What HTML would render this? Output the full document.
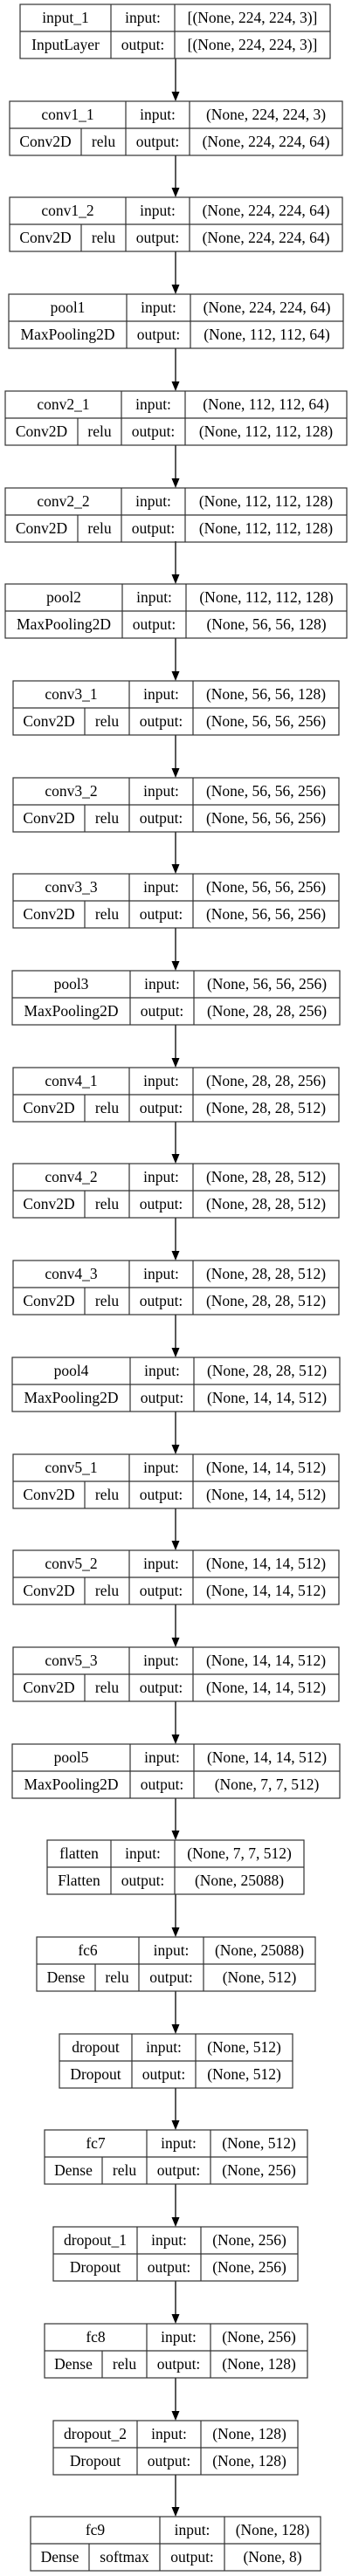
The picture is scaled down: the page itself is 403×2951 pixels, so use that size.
<!DOCTYPE html>
<html><head><meta charset="utf-8"><style>
html,body{margin:0;padding:0;background:#fff;}
svg{display:block;}
text{font-family:"Liberation Serif",serif;font-size:17.5px;fill:#000;text-anchor:middle;}
.b{fill:none;stroke:#333;stroke-width:1.2;}
.l{stroke:#333;stroke-width:1.2;}
.a{stroke:#000;stroke-width:1.3;}
</style></head><body>
<svg width="403" height="2951" viewBox="0 0 403 2951" xmlns="http://www.w3.org/2000/svg">
<rect width="403" height="2951" fill="#fff"/>

<g>
<line class="a" x1="201" y1="67" x2="201" y2="106"/><polygon points="196.5,105 205.5,105 201,116"/>
<line class="a" x1="201" y1="178" x2="201" y2="216"/><polygon points="196.5,215 205.5,215 201,226"/>
<line class="a" x1="201" y1="288" x2="201" y2="327"/><polygon points="196.5,326 205.5,326 201,337"/>
<line class="a" x1="201" y1="399" x2="201" y2="438"/><polygon points="196.5,437 205.5,437 201,448"/>
<line class="a" x1="201" y1="510" x2="201" y2="549"/><polygon points="196.5,548 205.5,548 201,559"/>
<line class="a" x1="201" y1="620" x2="201" y2="659"/><polygon points="196.5,658 205.5,658 201,669"/>
<line class="a" x1="201" y1="731" x2="201" y2="770"/><polygon points="196.5,769 205.5,769 201,780"/>
<line class="a" x1="201" y1="842" x2="201" y2="881"/><polygon points="196.5,880 205.5,880 201,891"/>
<line class="a" x1="201" y1="953" x2="201" y2="991"/><polygon points="196.5,990 205.5,990 201,1001"/>
<line class="a" x1="201" y1="1063" x2="201" y2="1102"/><polygon points="196.5,1101 205.5,1101 201,1112"/>
<line class="a" x1="201" y1="1174" x2="201" y2="1213"/><polygon points="196.5,1212 205.5,1212 201,1223"/>
<line class="a" x1="201" y1="1285" x2="201" y2="1323"/><polygon points="196.5,1322 205.5,1322 201,1333"/>
<line class="a" x1="201" y1="1395" x2="201" y2="1434"/><polygon points="196.5,1433 205.5,1433 201,1444"/>
<line class="a" x1="201" y1="1506" x2="201" y2="1545"/><polygon points="196.5,1544 205.5,1544 201,1555"/>
<line class="a" x1="201" y1="1617" x2="201" y2="1656"/><polygon points="196.5,1655 205.5,1655 201,1666"/>
<line class="a" x1="201" y1="1728" x2="201" y2="1766"/><polygon points="196.5,1765 205.5,1765 201,1776"/>
<line class="a" x1="201" y1="1838" x2="201" y2="1877"/><polygon points="196.5,1876 205.5,1876 201,1887"/>
<line class="a" x1="201" y1="1949" x2="201" y2="1988"/><polygon points="196.5,1987 205.5,1987 201,1998"/>
<line class="a" x1="201" y1="2060" x2="201" y2="2098"/><polygon points="196.5,2097 205.5,2097 201,2108"/>
<line class="a" x1="201" y1="2170" x2="201" y2="2209"/><polygon points="196.5,2208 205.5,2208 201,2219"/>
<line class="a" x1="201" y1="2281" x2="201" y2="2320"/><polygon points="196.5,2319 205.5,2319 201,2330"/>
<line class="a" x1="201" y1="2392" x2="201" y2="2430"/><polygon points="196.5,2429 205.5,2429 201,2440"/>
<line class="a" x1="201" y1="2502" x2="201" y2="2541"/><polygon points="196.5,2540 205.5,2540 201,2551"/>
<line class="a" x1="201" y1="2613" x2="201" y2="2652"/><polygon points="196.5,2651 205.5,2651 201,2662"/>
<line class="a" x1="201" y1="2724" x2="201" y2="2763"/><polygon points="196.5,2762 205.5,2762 201,2773"/>
<line class="a" x1="201" y1="2835" x2="201" y2="2873"/><polygon points="196.5,2872 205.5,2872 201,2883"/>
</g>

<g transform="translate(0,5)">
<rect class="b" x="23" y="0" width="355" height="62"/><line class="l" x1="23" y1="31" x2="378" y2="31"/>
<line class="l" x1="127" y1="0" x2="127" y2="62"/><line class="l" x1="200" y1="0" x2="200" y2="62"/>
<text x="75" y="21">input_1</text><text x="163.5" y="21">input:</text><text x="289" y="21">[(None, 224, 224, 3)]</text>
<text x="75" y="52">InputLayer</text><text x="163.5" y="52">output:</text><text x="289" y="52">[(None, 224, 224, 3)]</text>
</g>

<g transform="translate(0,116)">
<rect class="b" x="11" y="0" width="381" height="62"/><line class="l" x1="11" y1="31" x2="392" y2="31"/>
<line class="l" x1="144" y1="0" x2="144" y2="62"/><line class="l" x1="217" y1="0" x2="217" y2="62"/><line class="l" x1="93" y1="31" x2="93" y2="62"/>
<text x="77.5" y="21">conv1_1</text><text x="180.5" y="21">input:</text><text x="304.5" y="21">(None, 224, 224, 3)</text>
<text x="52" y="52">Conv2D</text><text x="118.5" y="52">relu</text><text x="180.5" y="52">output:</text><text x="304.5" y="52">(None, 224, 224, 64)</text>
</g>

<g transform="translate(0,226)">
<rect class="b" x="11" y="0" width="381" height="62"/><line class="l" x1="11" y1="31" x2="392" y2="31"/>
<line class="l" x1="144" y1="0" x2="144" y2="62"/><line class="l" x1="217" y1="0" x2="217" y2="62"/><line class="l" x1="93" y1="31" x2="93" y2="62"/>
<text x="77.5" y="21">conv1_2</text><text x="180.5" y="21">input:</text><text x="304.5" y="21">(None, 224, 224, 64)</text>
<text x="52" y="52">Conv2D</text><text x="118.5" y="52">relu</text><text x="180.5" y="52">output:</text><text x="304.5" y="52">(None, 224, 224, 64)</text>
</g>

<g transform="translate(0,337)">
<rect class="b" x="10" y="0" width="383" height="62"/><line class="l" x1="10" y1="31" x2="393" y2="31"/>
<line class="l" x1="145" y1="0" x2="145" y2="62"/><line class="l" x1="218" y1="0" x2="218" y2="62"/>
<text x="77.5" y="21">pool1</text><text x="181.5" y="21">input:</text><text x="305.5" y="21">(None, 224, 224, 64)</text>
<text x="77.5" y="52">MaxPooling2D</text><text x="181.5" y="52">output:</text><text x="305.5" y="52">(None, 112, 112, 64)</text>
</g>

<g transform="translate(0,448)">
<rect class="b" x="6" y="0" width="391" height="62"/><line class="l" x1="6" y1="31" x2="397" y2="31"/>
<line class="l" x1="139" y1="0" x2="139" y2="62"/><line class="l" x1="212" y1="0" x2="212" y2="62"/><line class="l" x1="89" y1="31" x2="89" y2="62"/>
<text x="72.5" y="21">conv2_1</text><text x="175.5" y="21">input:</text><text x="304.5" y="21">(None, 112, 112, 64)</text>
<text x="47.5" y="52">Conv2D</text><text x="114" y="52">relu</text><text x="175.5" y="52">output:</text><text x="304.5" y="52">(None, 112, 112, 128)</text>
</g>

<g transform="translate(0,559)">
<rect class="b" x="6" y="0" width="391" height="62"/><line class="l" x1="6" y1="31" x2="397" y2="31"/>
<line class="l" x1="139" y1="0" x2="139" y2="62"/><line class="l" x1="212" y1="0" x2="212" y2="62"/><line class="l" x1="89" y1="31" x2="89" y2="62"/>
<text x="72.5" y="21">conv2_2</text><text x="175.5" y="21">input:</text><text x="304.5" y="21">(None, 112, 112, 128)</text>
<text x="47.5" y="52">Conv2D</text><text x="114" y="52">relu</text><text x="175.5" y="52">output:</text><text x="304.5" y="52">(None, 112, 112, 128)</text>
</g>

<g transform="translate(0,669)">
<rect class="b" x="6" y="0" width="391" height="62"/><line class="l" x1="6" y1="31" x2="397" y2="31"/>
<line class="l" x1="140" y1="0" x2="140" y2="62"/><line class="l" x1="213" y1="0" x2="213" y2="62"/>
<text x="73" y="21">pool2</text><text x="176.5" y="21">input:</text><text x="305" y="21">(None, 112, 112, 128)</text>
<text x="73" y="52">MaxPooling2D</text><text x="176.5" y="52">output:</text><text x="305" y="52">(None, 56, 56, 128)</text>
</g>

<g transform="translate(0,780)">
<rect class="b" x="15" y="0" width="373" height="62"/><line class="l" x1="15" y1="31" x2="388" y2="31"/>
<line class="l" x1="148" y1="0" x2="148" y2="62"/><line class="l" x1="221" y1="0" x2="221" y2="62"/><line class="l" x1="97" y1="31" x2="97" y2="62"/>
<text x="81.5" y="21">conv3_1</text><text x="184.5" y="21">input:</text><text x="304.5" y="21">(None, 56, 56, 128)</text>
<text x="56" y="52">Conv2D</text><text x="122.5" y="52">relu</text><text x="184.5" y="52">output:</text><text x="304.5" y="52">(None, 56, 56, 256)</text>
</g>

<g transform="translate(0,891)">
<rect class="b" x="15" y="0" width="373" height="62"/><line class="l" x1="15" y1="31" x2="388" y2="31"/>
<line class="l" x1="148" y1="0" x2="148" y2="62"/><line class="l" x1="221" y1="0" x2="221" y2="62"/><line class="l" x1="97" y1="31" x2="97" y2="62"/>
<text x="81.5" y="21">conv3_2</text><text x="184.5" y="21">input:</text><text x="304.5" y="21">(None, 56, 56, 256)</text>
<text x="56" y="52">Conv2D</text><text x="122.5" y="52">relu</text><text x="184.5" y="52">output:</text><text x="304.5" y="52">(None, 56, 56, 256)</text>
</g>

<g transform="translate(0,1001)">
<rect class="b" x="15" y="0" width="373" height="62"/><line class="l" x1="15" y1="31" x2="388" y2="31"/>
<line class="l" x1="148" y1="0" x2="148" y2="62"/><line class="l" x1="221" y1="0" x2="221" y2="62"/><line class="l" x1="97" y1="31" x2="97" y2="62"/>
<text x="81.5" y="21">conv3_3</text><text x="184.5" y="21">input:</text><text x="304.5" y="21">(None, 56, 56, 256)</text>
<text x="56" y="52">Conv2D</text><text x="122.5" y="52">relu</text><text x="184.5" y="52">output:</text><text x="304.5" y="52">(None, 56, 56, 256)</text>
</g>

<g transform="translate(0,1112)">
<rect class="b" x="14" y="0" width="375" height="62"/><line class="l" x1="14" y1="31" x2="389" y2="31"/>
<line class="l" x1="149" y1="0" x2="149" y2="62"/><line class="l" x1="222" y1="0" x2="222" y2="62"/>
<text x="81.5" y="21">pool3</text><text x="185.5" y="21">input:</text><text x="305.5" y="21">(None, 56, 56, 256)</text>
<text x="81.5" y="52">MaxPooling2D</text><text x="185.5" y="52">output:</text><text x="305.5" y="52">(None, 28, 28, 256)</text>
</g>

<g transform="translate(0,1223)">
<rect class="b" x="15" y="0" width="373" height="62"/><line class="l" x1="15" y1="31" x2="388" y2="31"/>
<line class="l" x1="148" y1="0" x2="148" y2="62"/><line class="l" x1="221" y1="0" x2="221" y2="62"/><line class="l" x1="97" y1="31" x2="97" y2="62"/>
<text x="81.5" y="21">conv4_1</text><text x="184.5" y="21">input:</text><text x="304.5" y="21">(None, 28, 28, 256)</text>
<text x="56" y="52">Conv2D</text><text x="122.5" y="52">relu</text><text x="184.5" y="52">output:</text><text x="304.5" y="52">(None, 28, 28, 512)</text>
</g>

<g transform="translate(0,1333)">
<rect class="b" x="15" y="0" width="373" height="62"/><line class="l" x1="15" y1="31" x2="388" y2="31"/>
<line class="l" x1="148" y1="0" x2="148" y2="62"/><line class="l" x1="221" y1="0" x2="221" y2="62"/><line class="l" x1="97" y1="31" x2="97" y2="62"/>
<text x="81.5" y="21">conv4_2</text><text x="184.5" y="21">input:</text><text x="304.5" y="21">(None, 28, 28, 512)</text>
<text x="56" y="52">Conv2D</text><text x="122.5" y="52">relu</text><text x="184.5" y="52">output:</text><text x="304.5" y="52">(None, 28, 28, 512)</text>
</g>

<g transform="translate(0,1444)">
<rect class="b" x="15" y="0" width="373" height="62"/><line class="l" x1="15" y1="31" x2="388" y2="31"/>
<line class="l" x1="148" y1="0" x2="148" y2="62"/><line class="l" x1="221" y1="0" x2="221" y2="62"/><line class="l" x1="97" y1="31" x2="97" y2="62"/>
<text x="81.5" y="21">conv4_3</text><text x="184.5" y="21">input:</text><text x="304.5" y="21">(None, 28, 28, 512)</text>
<text x="56" y="52">Conv2D</text><text x="122.5" y="52">relu</text><text x="184.5" y="52">output:</text><text x="304.5" y="52">(None, 28, 28, 512)</text>
</g>

<g transform="translate(0,1555)">
<rect class="b" x="14" y="0" width="375" height="62"/><line class="l" x1="14" y1="31" x2="389" y2="31"/>
<line class="l" x1="149" y1="0" x2="149" y2="62"/><line class="l" x1="222" y1="0" x2="222" y2="62"/>
<text x="81.5" y="21">pool4</text><text x="185.5" y="21">input:</text><text x="305.5" y="21">(None, 28, 28, 512)</text>
<text x="81.5" y="52">MaxPooling2D</text><text x="185.5" y="52">output:</text><text x="305.5" y="52">(None, 14, 14, 512)</text>
</g>

<g transform="translate(0,1666)">
<rect class="b" x="15" y="0" width="373" height="62"/><line class="l" x1="15" y1="31" x2="388" y2="31"/>
<line class="l" x1="148" y1="0" x2="148" y2="62"/><line class="l" x1="221" y1="0" x2="221" y2="62"/><line class="l" x1="97" y1="31" x2="97" y2="62"/>
<text x="81.5" y="21">conv5_1</text><text x="184.5" y="21">input:</text><text x="304.5" y="21">(None, 14, 14, 512)</text>
<text x="56" y="52">Conv2D</text><text x="122.5" y="52">relu</text><text x="184.5" y="52">output:</text><text x="304.5" y="52">(None, 14, 14, 512)</text>
</g>

<g transform="translate(0,1776)">
<rect class="b" x="15" y="0" width="373" height="62"/><line class="l" x1="15" y1="31" x2="388" y2="31"/>
<line class="l" x1="148" y1="0" x2="148" y2="62"/><line class="l" x1="221" y1="0" x2="221" y2="62"/><line class="l" x1="97" y1="31" x2="97" y2="62"/>
<text x="81.5" y="21">conv5_2</text><text x="184.5" y="21">input:</text><text x="304.5" y="21">(None, 14, 14, 512)</text>
<text x="56" y="52">Conv2D</text><text x="122.5" y="52">relu</text><text x="184.5" y="52">output:</text><text x="304.5" y="52">(None, 14, 14, 512)</text>
</g>

<g transform="translate(0,1887)">
<rect class="b" x="15" y="0" width="373" height="62"/><line class="l" x1="15" y1="31" x2="388" y2="31"/>
<line class="l" x1="148" y1="0" x2="148" y2="62"/><line class="l" x1="221" y1="0" x2="221" y2="62"/><line class="l" x1="97" y1="31" x2="97" y2="62"/>
<text x="81.5" y="21">conv5_3</text><text x="184.5" y="21">input:</text><text x="304.5" y="21">(None, 14, 14, 512)</text>
<text x="56" y="52">Conv2D</text><text x="122.5" y="52">relu</text><text x="184.5" y="52">output:</text><text x="304.5" y="52">(None, 14, 14, 512)</text>
</g>

<g transform="translate(0,1998)">
<rect class="b" x="14" y="0" width="375" height="62"/><line class="l" x1="14" y1="31" x2="389" y2="31"/>
<line class="l" x1="149" y1="0" x2="149" y2="62"/><line class="l" x1="222" y1="0" x2="222" y2="62"/>
<text x="81.5" y="21">pool5</text><text x="185.5" y="21">input:</text><text x="305.5" y="21">(None, 14, 14, 512)</text>
<text x="81.5" y="52">MaxPooling2D</text><text x="185.5" y="52">output:</text><text x="305.5" y="52">(None, 7, 7, 512)</text>
</g>

<g transform="translate(0,2108)">
<rect class="b" x="54" y="0" width="294" height="62"/><line class="l" x1="54" y1="31" x2="348" y2="31"/>
<line class="l" x1="127" y1="0" x2="127" y2="62"/><line class="l" x1="200" y1="0" x2="200" y2="62"/>
<text x="90.5" y="21">flatten</text><text x="163.5" y="21">input:</text><text x="274" y="21">(None, 7, 7, 512)</text>
<text x="90.5" y="52">Flatten</text><text x="163.5" y="52">output:</text><text x="274" y="52">(None, 25088)</text>
</g>

<g transform="translate(0,2219)">
<rect class="b" x="42" y="0" width="319" height="62"/><line class="l" x1="42" y1="31" x2="361" y2="31"/>
<line class="l" x1="159" y1="0" x2="159" y2="62"/><line class="l" x1="233" y1="0" x2="233" y2="62"/><line class="l" x1="109" y1="31" x2="109" y2="62"/>
<text x="100.5" y="21">fc6</text><text x="196" y="21">input:</text><text x="297" y="21">(None, 25088)</text>
<text x="75.5" y="52">Dense</text><text x="134" y="52">relu</text><text x="196" y="52">output:</text><text x="297" y="52">(None, 512)</text>
</g>

<g transform="translate(0,2330)">
<rect class="b" x="68" y="0" width="267" height="62"/><line class="l" x1="68" y1="31" x2="335" y2="31"/>
<line class="l" x1="151" y1="0" x2="151" y2="62"/><line class="l" x1="224" y1="0" x2="224" y2="62"/>
<text x="109.5" y="21">dropout</text><text x="187.5" y="21">input:</text><text x="279.5" y="21">(None, 512)</text>
<text x="109.5" y="52">Dropout</text><text x="187.5" y="52">output:</text><text x="279.5" y="52">(None, 512)</text>
</g>

<g transform="translate(0,2440)">
<rect class="b" x="51" y="0" width="301" height="62"/><line class="l" x1="51" y1="31" x2="352" y2="31"/>
<line class="l" x1="168" y1="0" x2="168" y2="62"/><line class="l" x1="241" y1="0" x2="241" y2="62"/><line class="l" x1="117" y1="31" x2="117" y2="62"/>
<text x="109.5" y="21">fc7</text><text x="204.5" y="21">input:</text><text x="296.5" y="21">(None, 512)</text>
<text x="84" y="52">Dense</text><text x="142.5" y="52">relu</text><text x="204.5" y="52">output:</text><text x="296.5" y="52">(None, 256)</text>
</g>

<g transform="translate(0,2551)">
<rect class="b" x="61" y="0" width="280" height="62"/><line class="l" x1="61" y1="31" x2="341" y2="31"/>
<line class="l" x1="157" y1="0" x2="157" y2="62"/><line class="l" x1="230" y1="0" x2="230" y2="62"/>
<text x="109" y="21">dropout_1</text><text x="193.5" y="21">input:</text><text x="285.5" y="21">(None, 256)</text>
<text x="109" y="52">Dropout</text><text x="193.5" y="52">output:</text><text x="285.5" y="52">(None, 256)</text>
</g>

<g transform="translate(0,2662)">
<rect class="b" x="51" y="0" width="301" height="62"/><line class="l" x1="51" y1="31" x2="352" y2="31"/>
<line class="l" x1="168" y1="0" x2="168" y2="62"/><line class="l" x1="241" y1="0" x2="241" y2="62"/><line class="l" x1="117" y1="31" x2="117" y2="62"/>
<text x="109.5" y="21">fc8</text><text x="204.5" y="21">input:</text><text x="296.5" y="21">(None, 256)</text>
<text x="84" y="52">Dense</text><text x="142.5" y="52">relu</text><text x="204.5" y="52">output:</text><text x="296.5" y="52">(None, 128)</text>
</g>

<g transform="translate(0,2773)">
<rect class="b" x="61" y="0" width="280" height="62"/><line class="l" x1="61" y1="31" x2="341" y2="31"/>
<line class="l" x1="157" y1="0" x2="157" y2="62"/><line class="l" x1="230" y1="0" x2="230" y2="62"/>
<text x="109" y="21">dropout_2</text><text x="193.5" y="21">input:</text><text x="285.5" y="21">(None, 128)</text>
<text x="109" y="52">Dropout</text><text x="193.5" y="52">output:</text><text x="285.5" y="52">(None, 128)</text>
</g>

<g transform="translate(0,2883)">
<rect class="b" x="35" y="0" width="332" height="62"/><line class="l" x1="35" y1="31" x2="367" y2="31"/>
<line class="l" x1="183" y1="0" x2="183" y2="62"/><line class="l" x1="257" y1="0" x2="257" y2="62"/><line class="l" x1="102" y1="31" x2="102" y2="62"/>
<text x="109" y="21">fc9</text><text x="220" y="21">input:</text><text x="312" y="21">(None, 128)</text>
<text x="68.5" y="52">Dense</text><text x="142.5" y="52">softmax</text><text x="220" y="52">output:</text><text x="312" y="52">(None, 8)</text>
</g>
</svg>
</body></html>
